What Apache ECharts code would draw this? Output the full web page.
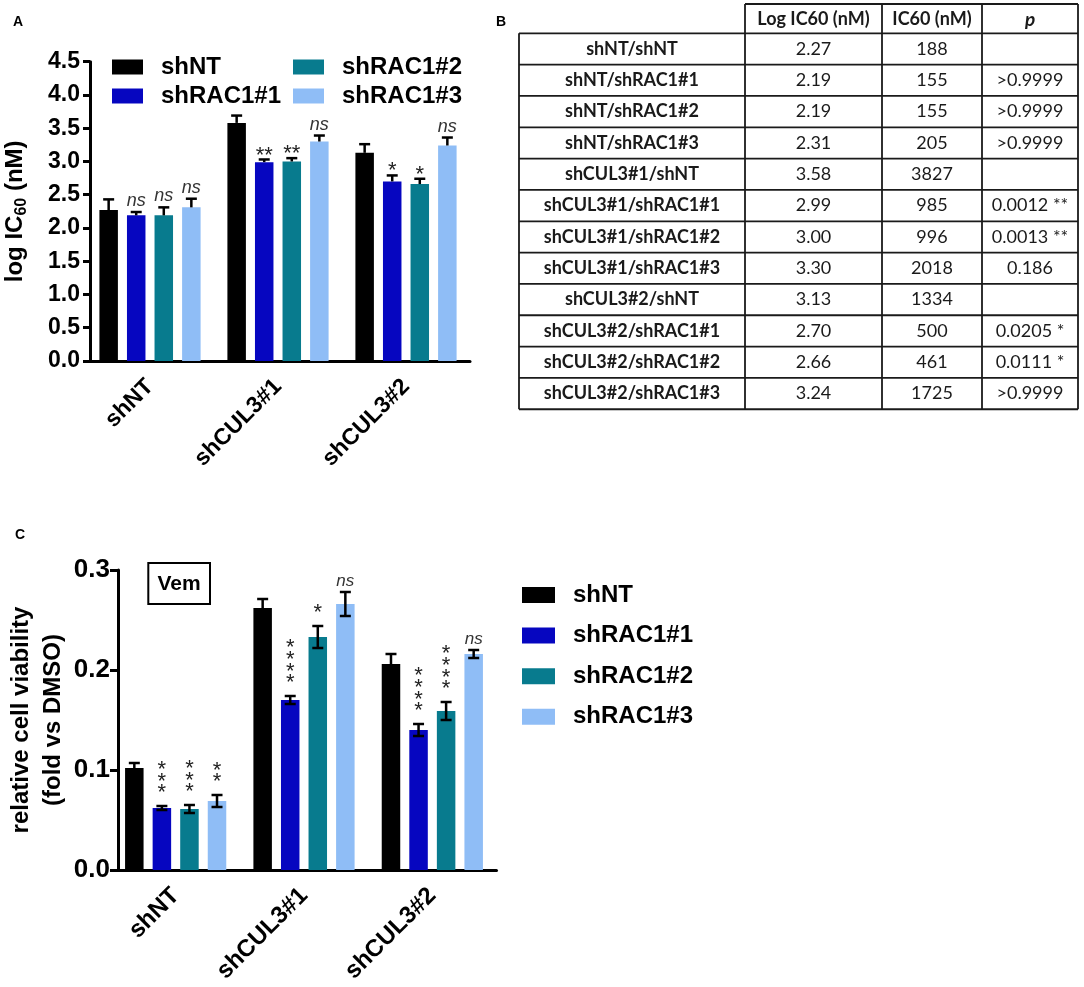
<!DOCTYPE html>
<html>
<head>
<meta charset="utf-8">
<script src="https://cdn.jsdelivr.net/npm/echarts@6/dist/echarts.min.js"></script>
<style>
html,body{margin:0;padding:0;background:#fff;}
#chart{width:1084px;height:987px;}
</style>
</head>
<body>
<div id="chart"></div>
<script>
// ---------- data ----------
const categories = ['shNT', 'shCUL3#1', 'shCUL3#2'];
const seriesNames = ['shNT', 'shRAC1#1', 'shRAC1#2', 'shRAC1#3'];

// Panel A: log IC60 (nM), per category (shNT, shCUL3#1, shCUL3#2)
const logIC60_shNT = [2.27, 3.58, 3.13];
const logIC60_shRAC1_1 = [2.19, 2.99, 2.70];
const logIC60_shRAC1_2 = [2.19, 3.00, 2.66];
const logIC60_shRAC1_3 = [2.31, 3.30, 3.24];
const errA_shNT = [0.16, 0.11, 0.13];
const errA_shRAC1_1 = [0.05, 0.04, 0.09];
const errA_shRAC1_2 = [0.12, 0.05, 0.08];
const errA_shRAC1_3 = [0.13, 0.09, 0.12];
const sigA_shNT = ['', '', ''];
const sigA_shRAC1_1 = ['ns', '**', '*'];
const sigA_shRAC1_2 = ['ns', '**', '*'];
const sigA_shRAC1_3 = ['ns', 'ns', 'ns'];
const yTicksA = ['0.0', '0.5', '1.0', '1.5', '2.0', '2.5', '3.0', '3.5', '4.0', '4.5'];

// Panel C: relative cell viability (fold vs DMSO), Vem
const viab_shNT = [0.102, 0.262, 0.206];
const viab_shRAC1_1 = [0.062, 0.170, 0.140];
const viab_shRAC1_2 = [0.061, 0.233, 0.159];
const viab_shRAC1_3 = [0.069, 0.266, 0.216];
const errC_shNT = [0.005, 0.009, 0.010];
const errC_shRAC1_1 = [0.002, 0.004, 0.006];
const errC_shRAC1_2 = [0.004, 0.011, 0.009];
const errC_shRAC1_3 = [0.006, 0.012, 0.004];
const sigC_shNT = ['', '', ''];
const sigC_shRAC1_1 = ['***', '****', '****'];
const sigC_shRAC1_2 = ['***', '*', '****'];
const sigC_shRAC1_3 = ['**', 'ns', 'ns'];
const yTicksC = ['0.0', '0.1', '0.2', '0.3'];

// Panel B: table
const tableHeaders = ['', 'Log IC60 (nM)', 'IC60 (nM)', 'p'];
const tableRowLabels = ['shNT/shNT', 'shNT/shRAC1#1', 'shNT/shRAC1#2', 'shNT/shRAC1#3',
  'shCUL3#1/shNT', 'shCUL3#1/shRAC1#1', 'shCUL3#1/shRAC1#2', 'shCUL3#1/shRAC1#3',
  'shCUL3#2/shNT', 'shCUL3#2/shRAC1#1', 'shCUL3#2/shRAC1#2', 'shCUL3#2/shRAC1#3'];
const tableLogIC60 = ['2.27', '2.19', '2.19', '2.31', '3.58', '2.99', '3.00', '3.30', '3.13', '2.70', '2.66', '3.24'];
const tableIC60 = ['188', '155', '155', '205', '3827', '985', '996', '2018', '1334', '500', '461', '1725'];
const tableP = ['', '>0.9999', '>0.9999', '>0.9999', '', '0.0012 **', '0.0013 **', '0.186', '', '0.0205 *', '0.0111 *', '>0.9999'];

// ---------- style ----------
const FONT = "'Liberation Sans', Arial, sans-serif";
const TFONT = "Lato, 'Open Sans', sans-serif";
const colors = ['#000000', '#0606c0', '#087b8e', '#8fbdf6'];
const BAR_W = 18.5;
const BAR_GAP = 0.49;
const PITCH = BAR_W * (1 + BAR_GAP);
const CAP = 11;

function errSeries(ci, k, vals, errs, sigs, both, stackStars, nsSize) {
  return {
    type: 'custom', name: 'err' + ci + '_' + k,
    xAxisIndex: ci, yAxisIndex: ci, z: 10, silent: true, clip: false,
    data: vals.map((v, g) => [g, v, errs[g]]),
    encode: { x: 0, y: 1 },
    renderItem: function (params, api) {
      const g = api.value(0), v = api.value(1), e = api.value(2);
      const base = api.coord([g, v]);
      const x = base[0] + (k - 1.5) * PITCH;
      const yTop = api.coord([g, v + e])[1];
      const yBot = both ? api.coord([g, v - e])[1] : base[1];
      const ls = { stroke: '#000', lineWidth: 2.5 };
      const ch = [
        { type: 'line', shape: { x1: x, y1: yBot, x2: x, y2: yTop }, style: ls },
        { type: 'line', shape: { x1: x - CAP / 2, y1: yTop, x2: x + CAP / 2, y2: yTop }, style: ls }
      ];
      if (both) ch.push({ type: 'line', shape: { x1: x - CAP / 2, y1: yBot, x2: x + CAP / 2, y2: yBot }, style: ls });
      const s = sigs[params.dataIndex];
      if (s === 'ns') {
        ch.push({ type: 'text', x: x, y: yTop - 11, style: { text: 'ns', fill: '#333', font: 'italic ' + nsSize + 'px ' + FONT, align: 'center', verticalAlign: 'middle' } });
      } else if (s) {
        if (stackStars) {
          ch.push({ type: 'text', x: x, y: yTop - 7, style: { text: s.split('').join('\n'), fill: '#222', font: '22px ' + FONT, lineHeight: 11.7, align: 'center', verticalAlign: 'bottom' } });
        } else {
          ch.push({ type: 'text', x: x, y: yTop - 4, style: { text: s, fill: '#222', font: '22px ' + FONT, align: 'center', verticalAlign: 'middle' } });
        }
      }
      return { type: 'group', children: ch };
    }
  };
}

const valsA = [logIC60_shNT, logIC60_shRAC1_1, logIC60_shRAC1_2, logIC60_shRAC1_3];
const errsA = [errA_shNT, errA_shRAC1_1, errA_shRAC1_2, errA_shRAC1_3];
const sigsA = [sigA_shNT, sigA_shRAC1_1, sigA_shRAC1_2, sigA_shRAC1_3];
const valsC = [viab_shNT, viab_shRAC1_1, viab_shRAC1_2, viab_shRAC1_3];
const errsC = [errC_shNT, errC_shRAC1_1, errC_shRAC1_2, errC_shRAC1_3];
const sigsC = [sigC_shNT, sigC_shRAC1_1, sigC_shRAC1_2, sigC_shRAC1_3];

const series = [];
seriesNames.forEach((n, k) => {
  series.push({ type: 'bar', name: n, xAxisIndex: 0, yAxisIndex: 0, data: valsA[k], barWidth: BAR_W, barGap: (BAR_GAP * 100) + '%', itemStyle: { color: colors[k] }, silent: true });
});
seriesNames.forEach((n, k) => {
  series.push({ type: 'bar', name: n, xAxisIndex: 1, yAxisIndex: 1, data: valsC[k], barWidth: BAR_W, barGap: (BAR_GAP * 100) + '%', itemStyle: { color: colors[k] }, silent: true });
});
seriesNames.forEach((n, k) => series.push(errSeries(0, k, valsA[k], errsA[k], sigsA[k], false, false, 18)));
seriesNames.forEach((n, k) => series.push(errSeries(1, k, valsC[k], errsC[k], sigsC[k], k !== 0, true, 17)));

// ---------- table graphics ----------
const colX = [519, 745, 882, 982, 1078];
const headTop = 4;
const rowTop = 33.3;
const rowH = 31.33;
const tbl = [];
const lineStyle = { stroke: '#1a1a1a', lineWidth: 1.8 };
const nRows = tableRowLabels.length;
const tBottom = rowTop + nRows * rowH;
tbl.push({ type: 'line', shape: { x1: colX[1], y1: headTop, x2: colX[4], y2: headTop }, style: lineStyle });
for (let r = 0; r <= nRows; r++) {
  const y = rowTop + r * rowH;
  tbl.push({ type: 'line', shape: { x1: colX[0], y1: y, x2: colX[4], y2: y }, style: lineStyle });
}
tbl.push({ type: 'line', shape: { x1: colX[0], y1: rowTop, x2: colX[0], y2: tBottom }, style: lineStyle });
for (let c = 1; c < colX.length; c++) {
  tbl.push({ type: 'line', shape: { x1: colX[c], y1: headTop, x2: colX[c], y2: tBottom }, style: lineStyle });
}
function cellText(txt, c, yMid, font) {
  return { type: 'text', x: (colX[c] + colX[c + 1]) / 2, y: yMid, style: { text: txt, fill: '#1a1a1a', font: font, align: 'center', verticalAlign: 'middle', textAlign: 'center', textVerticalAlign: 'middle' } };
}
const hMid = (headTop + rowTop) / 2 + 1;
tbl.push(cellText(tableHeaders[1], 1, hMid, 'bold 18px ' + TFONT));
tbl.push(cellText(tableHeaders[2], 2, hMid, 'bold 18px ' + TFONT));
tbl.push(cellText(tableHeaders[3], 3, hMid, 'italic bold 19px ' + TFONT));
for (let r = 0; r < nRows; r++) {
  const ym = rowTop + r * rowH + rowH / 2;
  tbl.push(cellText(tableRowLabels[r], 0, ym, 'bold 18px ' + TFONT));
  tbl.push(cellText(tableLogIC60[r], 1, ym, '18px ' + TFONT));
  tbl.push(cellText(tableIC60[r], 2, ym, '18px ' + TFONT));
  if (tableP[r]) tbl.push(cellText(tableP[r], 3, ym, '18px ' + TFONT));
}

const graphics = tbl.concat([
  { type: 'text', x: 18, y: 22, style: { text: 'A', font: 'bold 14px ' + FONT, fill: '#000', align: 'center', verticalAlign: 'middle' } },
  { type: 'text', x: 501, y: 22, style: { text: 'B', font: 'bold 14px ' + FONT, fill: '#000', align: 'center', verticalAlign: 'middle' } },
  { type: 'text', x: 20, y: 535, style: { text: 'C', font: 'bold 14px ' + FONT, fill: '#000', align: 'center', verticalAlign: 'middle' } },
  { type: 'rect', shape: { x: 148.3, y: 563, width: 61.7, height: 41 }, style: { fill: 'rgba(0,0,0,0)', stroke: '#000', lineWidth: 2 } },
  { type: 'text', x: 179, y: 584, style: { text: 'Vem', font: 'bold 21px ' + FONT, fill: '#000', align: 'center', verticalAlign: 'middle' } }
]);

function axisX(gi, fs, tickLen, margin) {
  return {
    type: 'category', gridIndex: gi, data: categories,
    axisLine: { lineStyle: { color: '#000', width: 3 } },
    axisTick: { alignWithLabel: true, length: tickLen, lineStyle: { color: '#000', width: 3 } },
    axisLabel: { rotate: 45, fontSize: fs, fontWeight: 'bold', color: '#000', margin: margin, fontFamily: FONT, interval: 0 }
  };
}

const option = {
  animation: false,
  backgroundColor: '#fff',
  grid: [
    { left: 86, top: 61.7, width: 384, height: 299.3 },
    { left: 111.5, top: 570, width: 385, height: 300 }
  ],
  xAxis: [axisX(0, 23, 8, 22), axisX(1, 24, 10, 22)],
  yAxis: [
    {
      type: 'value', gridIndex: 0, min: 0, max: 4.5, interval: 0.5, offset: -4,
      axisLine: { show: true, lineStyle: { color: '#000', width: 3 } },
      axisTick: { show: true, length: 7, lineStyle: { color: '#000', width: 3 } },
      splitLine: { show: false },
      axisLabel: { fontSize: 23, fontWeight: 'bold', color: '#000', margin: 10, fontFamily: FONT, formatter: (v, i) => yTicksA[i] },
      name: '{a|log IC}{s|60}{a| (nM)}', nameLocation: 'middle', nameGap: 60,
      nameTextStyle: {
        color: '#000', fontFamily: FONT,
        rich: {
          a: { fontSize: 24, fontWeight: 'bold', fontFamily: FONT, color: '#000', lineHeight: 30 },
          s: { fontSize: 16, fontWeight: 'bold', fontFamily: FONT, color: '#000', lineHeight: 12, verticalAlign: 'bottom' }
        }
      }
    },
    {
      type: 'value', gridIndex: 1, min: 0, max: 0.3, interval: 0.1, offset: -6.5,
      axisLine: { show: true, lineStyle: { color: '#000', width: 3 } },
      axisTick: { show: true, length: 8, lineStyle: { color: '#000', width: 3 } },
      splitLine: { show: false },
      axisLabel: { fontSize: 26, fontWeight: 'bold', color: '#000', margin: 8, fontFamily: FONT, formatter: (v, i) => yTicksC[i] },
      name: 'relative cell viability\n(fold vs DMSO)', nameLocation: 'middle', nameGap: 49,
      nameTextStyle: { fontSize: 24, fontWeight: 'bold', color: '#000', fontFamily: FONT, lineHeight: 32 }
    }
  ],
  legend: [
    { orient: 'vertical', left: 107, top: 50, itemWidth: 31, itemHeight: 15, itemGap: 5, icon: 'rect', selectedMode: false,
      data: [seriesNames[0], seriesNames[1]],
      textStyle: { fontSize: 24, fontWeight: 'bold', color: '#000', fontFamily: FONT, lineHeight: 24, padding: [0, 0, 0, 13] } },
    { orient: 'vertical', left: 288, top: 50, itemWidth: 31, itemHeight: 15, itemGap: 5, icon: 'rect', selectedMode: false,
      data: [seriesNames[2], seriesNames[3]],
      textStyle: { fontSize: 24, fontWeight: 'bold', color: '#000', fontFamily: FONT, lineHeight: 24, padding: [0, 0, 0, 13] } },
    { orient: 'vertical', left: 517, top: 578, itemWidth: 33, itemHeight: 16, itemGap: 16.6, icon: 'rect', selectedMode: false,
      data: seriesNames.slice(),
      textStyle: { fontSize: 24, fontWeight: 'bold', color: '#000', fontFamily: FONT, lineHeight: 24, padding: [0, 0, 0, 13] } }
  ],
  graphic: graphics,
  series: series
};

const chart = echarts.init(document.getElementById('chart'), null, { renderer: 'canvas' });
chart.setOption(option);
</script>
</body>
</html>
